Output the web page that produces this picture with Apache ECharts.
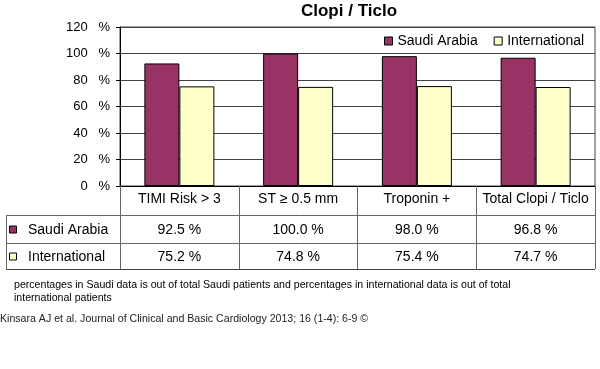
<!DOCTYPE html>
<html>
<head>
<meta charset="utf-8">
<script src="https://cdn.jsdelivr.net/npm/echarts@6/dist/echarts.min.js"></script>
<style>
html,body{margin:0;padding:0;background:#fff;}
#c{width:600px;height:369px;}
</style>
</head>
<body>
<div id="c"></div>
<script>
const categories = ['TIMI Risk > 3', 'ST \u2265 0.5 mm', 'Troponin +', 'Total Clopi / Ticlo'];
const seriesNames = ['Saudi Arabia', 'International'];
const saudi = [92.5, 100.0, 98.0, 96.8];
const international = [75.2, 74.8, 75.4, 74.7];
const yTicks = [0, 20, 40, 60, 80, 100, 120];
const titleText = 'Clopi / Ticlo';
const footnote = ['percentages in Saudi data is out of total Saudi patients and percentages in international data is out of total', 'international patients'];
const caption = 'Kinsara AJ et al. Journal of Clinical and Basic Cardiology 2013; 16 (1-4): 6-9 \u00a9';

const colors = ['#993366', '#FFFFCC'];
const FONT = '"Liberation Sans", Arial, sans-serif';
const chart = echarts.init(document.getElementById('c'));

const rowY = [186, 215, 243, 269];
const tableLeft = 6, tableRight = 595;
const lineColor = '#666';

const graphics = [];
[rowY[1], rowY[2], rowY[3]].forEach(y => {
  graphics.push({type:'line', shape:{x1:tableLeft, y1:y+0.5, x2:tableRight, y2:y+0.5}, style:{stroke: y===rowY[3] ? '#444' : lineColor, lineWidth:1}, silent:true});
});
graphics.push({type:'line', shape:{x1:tableLeft+0.5, y1:rowY[1], x2:tableLeft+0.5, y2:rowY[3]+1}, style:{stroke:lineColor, lineWidth:1}});
seriesNames.forEach((n, i) => {
  const cy = (rowY[i+1] + rowY[i+2]) / 2;
  graphics.push({type:'rect', shape:{x:9.5, y:cy-3, width:7, height:7}, style:{fill:colors[i], stroke:'#000', lineWidth:1}});
  graphics.push({type:'text', x:28, y:cy+1, style:{text:n, font:'14px ' + FONT, fill:'#000', textVerticalAlign:'middle', textBaseline:'middle'}});
});
footnote.forEach((t, i) => {
  graphics.push({type:'text', x:14, y:285 + i*13, style:{text:t, font:'10.6px ' + FONT, fill:'#000', textVerticalAlign:'middle', textBaseline:'middle'}});
});
graphics.push({type:'text', x:0, y:319, style:{text:caption, font:'10.6px ' + FONT, fill:'#222', textVerticalAlign:'middle', textBaseline:'middle'}});

function valueAxis(arr, offset) {
  return {
    type:'category', data:categories, gridIndex:0, position:'bottom', offset:offset,
    axisLine:{show:false}, axisTick:{show:false}, splitLine:{show:false},
    axisLabel:{interval:0, margin:6, fontSize:14, fontFamily:FONT, color:'#000',
      formatter:(v, i) => arr[i].toFixed(1) + ' %'}
  };
}

chart.setOption({
  animation:false,
  backgroundColor:'#fff',
  title:{text:titleText, left:344, top:-2, textAlign:'center',
    textStyle:{fontSize:17, fontWeight:'bold', fontFamily:FONT, color:'#000'}},
  legend:{data:seriesNames, left:379, top:29, icon:'rect', itemWidth:8, itemHeight:8, itemGap:16,
    textStyle:{fontSize:14, fontFamily:FONT, color:'#000'},
    itemStyle:{borderColor:'#000', borderWidth:1}},
  grid:{left:120, right:5, top:27, bottom:183, show:true, borderColor:'#444', borderWidth:1},
  xAxis:[
    {type:'category', data:categories, gridIndex:0,
      axisLine:{lineStyle:{color:'#000'}},
      axisTick:{show:true, alignWithLabel:false, length:83, lineStyle:{color:lineColor}},
      axisLabel:{interval:0, margin:6, fontSize:14, fontFamily:FONT, color:'#000'}},
    valueAxis(saudi, 31),
    valueAxis(international, 58)
  ],
  yAxis:{type:'value', min:yTicks[0], max:yTicks[yTicks.length-1], interval:20,
    axisLine:{show:true, lineStyle:{color:'#000'}},
    axisTick:{show:true, length:4, lineStyle:{color:'#000'}},
    axisLabel:{margin:10, fontSize:13, fontFamily:FONT, color:'#000', formatter:'{value}   %'},
    splitLine:{lineStyle:{color:'#444', width:1}}},
  series:[
    {name:seriesNames[0], type:'bar', data:saudi, barWidth:35, barGap:'0%',
      itemStyle:{color:colors[0], borderColor:'#000', borderWidth:1}},
    {name:seriesNames[1], type:'bar', data:international, barWidth:35, barGap:'0%',
      itemStyle:{color:colors[1], borderColor:'#000', borderWidth:1}}
  ],
  graphic:graphics
});
</script>
</body>
</html>
